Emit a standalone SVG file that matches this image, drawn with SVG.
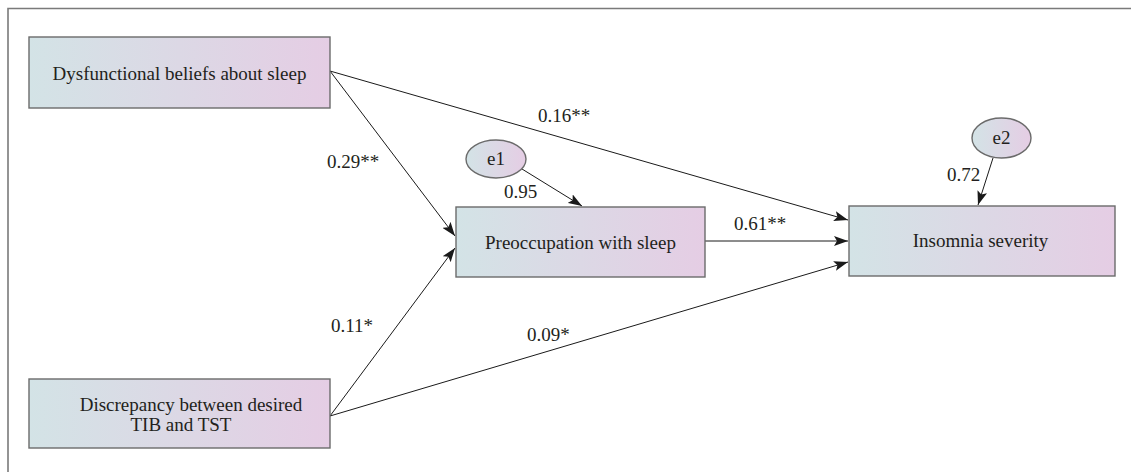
<svg xmlns="http://www.w3.org/2000/svg" width="1131" height="472" viewBox="0 0 1131 472">
<defs>
<linearGradient id="g" x1="0" y1="0" x2="1" y2="0">
<stop offset="0" stop-color="#d3e3e6"/>
<stop offset="1" stop-color="#e5cde4"/>
</linearGradient>
<marker id="ah" markerUnits="userSpaceOnUse" markerWidth="15" markerHeight="10" refX="14" refY="5" orient="auto">
<path d="M0,0 L14,5 L0,10 L3,5 z" fill="#1a1a1a"/>
</marker>
<style>
.box{fill:url(#g);stroke:#6b6b6b;stroke-width:1.4}
text{font-family:'Liberation Serif','DejaVu Serif',serif;font-size:19px;fill:#231f20}
.mid{text-anchor:middle}
.con{stroke:#1a1a1a;stroke-width:1;fill:none;marker-end:url(#ah)}
.frame{stroke:#7a7a7a;stroke-width:1.6;fill:none}
</style>
</defs>
<rect width="1131" height="472" fill="#ffffff"/>
<path class="frame" d="M8,472 L8,8.5 L1131,8.5"/>

<g id="connectors" font-family="Liberation Serif, serif">
<line class="con" x1="330" y1="71" x2="848" y2="220"/>
<line class="con" x1="330" y1="71" x2="455" y2="236"/>
<line class="con" x1="330" y1="416" x2="455" y2="248"/>
<line class="con" x1="330" y1="416" x2="848" y2="262"/>
<line class="con" x1="705" y1="241" x2="848" y2="241"/>
<line class="con" x1="522" y1="169" x2="582" y2="206"/>
<line class="con" x1="993" y1="158" x2="978" y2="205"/>
<text x="538" y="122">0.16**</text>
<text x="327" y="168">0.29**</text>
<text x="504" y="198">0.95</text>
<text x="734" y="230">0.61**</text>
<text x="947" y="181">0.72</text>
<text x="331" y="332">0.11*</text>
<text x="527" y="341">0.09*</text>
</g>

<g id="dysfunctional">
<rect class="box" x="29" y="37" width="301" height="71"/>
<text class="mid" x="179.5" y="80">Dysfunctional beliefs about sleep</text>
</g>
<g id="discrepancy">
<rect class="box" x="29" y="379" width="301" height="69"/>
<text class="mid" x="191" y="411">Discrepancy between desired</text>
<text class="mid" x="181" y="431">TIB and TST</text>
</g>
<g id="preoccupation">
<rect class="box" x="456" y="207" width="249" height="70"/>
<text class="mid" x="580.5" y="249">Preoccupation with sleep</text>
</g>
<g id="insomnia">
<rect class="box" x="849" y="206" width="266" height="70"/>
<text class="mid" x="980.5" y="247">Insomnia severity</text>
</g>
<g id="e1">
<ellipse class="box" cx="496" cy="159" rx="30" ry="19"/>
<text class="mid" x="496" y="165">e1</text>
</g>
<g id="e2">
<ellipse class="box" cx="1001.5" cy="138" rx="29.5" ry="20"/>
<text class="mid" x="1001.5" y="144">e2</text>
</g>
</svg>
